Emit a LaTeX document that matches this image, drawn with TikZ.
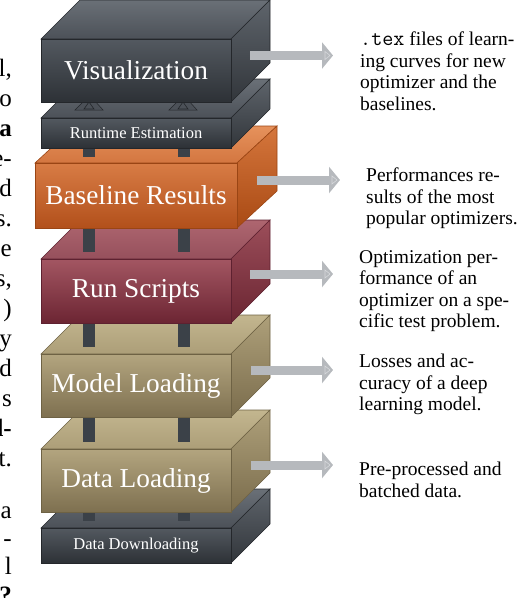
\documentclass[tikz,border=0pt]{standalone}
\usepackage{fontspec}
\setmainfont{Liberation Serif}
\usetikzlibrary{arrows.meta,calc}

\definecolor{dkF1}{HTML}{535960}
\definecolor{dkF2}{HTML}{2D3136}
\definecolor{dkT1}{HTML}{6A7077}
\definecolor{dkT2}{HTML}{4C5158}
\definecolor{dkS1}{HTML}{5E646B}
\definecolor{dkS2}{HTML}{32363B}
\definecolor{dkE}{HTML}{24272B}

\definecolor{orF1}{HTML}{D87C45}
\definecolor{orF2}{HTML}{B2501B}
\definecolor{orT1}{HTML}{E6925C}
\definecolor{orT2}{HTML}{D37640}
\definecolor{orS1}{HTML}{D5763C}
\definecolor{orS2}{HTML}{A94A14}
\definecolor{orE}{HTML}{9A4514}

\definecolor{mrF1}{HTML}{A35662}
\definecolor{mrF2}{HTML}{6C2533}
\definecolor{mrT1}{HTML}{AE6670}
\definecolor{mrT2}{HTML}{96505C}
\definecolor{mrS1}{HTML}{9C4E5A}
\definecolor{mrS2}{HTML}{6A2532}
\definecolor{mrE}{HTML}{5E2130}

\definecolor{khF1}{HTML}{B3A57F}
\definecolor{khF2}{HTML}{7E7050}
\definecolor{khT1}{HTML}{C3B68F}
\definecolor{khT2}{HTML}{AC9E78}
\definecolor{khS1}{HTML}{AEA07A}
\definecolor{khS2}{HTML}{7A6C4C}
\definecolor{khE}{HTML}{6E6244}

\definecolor{pillarc}{HTML}{3B4148}
\definecolor{arrowc}{HTML}{B6B9BD}
\definecolor{arrowin}{HTML}{D6D8DB}

\newcommand\bigfont{\fontsize{27.3}{30}\selectfont}
\newcommand\smallfont{\fontsize{16.5}{19}\selectfont}
\newcommand\rtextfont{\fontsize{19.5}{21.5}\selectfont}
\newcommand\leftfont{\fontsize{25}{30}\selectfont}
\newcommand\texword{{\fontsize{21.5}{21.5}\selectfont\ttfamily .tex}}

% #1 name, #2 x, #3 y, #4 w, #5 h, #6 dx, #7 dy, #8 colour prefix, #9 label
\newcommand\cubebox[9]{%
  \path[top color=#8T1, bottom color=#8T2, draw=#8E, line width=0.6pt]
    (#2,#3) -- ++(#6,-#7) -- ++(#4,0) -- ++(-#6,#7) -- cycle;
  \path[top color=#8S1, bottom color=#8S2, draw=#8E, line width=0.6pt]
    (#2+#4,#3) -- ++(#6,-#7) -- ++(0,#5) -- ++(-#6,#7) -- cycle;
  \node[face, minimum width=#4pt, minimum height=#5pt,
        top color=#8F1, bottom color=#8F2, draw=#8E] (#1) at (#2,#3) {#9};
}

\begin{document}
\begin{tikzpicture}[x=1pt,y=-1pt,
  face/.style={anchor=north west, inner sep=0pt, outer sep=0pt, text=white, line width=0.6pt},
  pillar/.style={fill=pillarc},
  foot/.style={fill=dkT2, draw=dkE, line width=0.5pt},
  bigarrow/.style={draw=arrowc, line width=9pt, -{Triangle[width=26pt,length=11pt]}},
  rtxt/.style={anchor=north west, inner sep=0pt, align=left, font=\rtextfont},
  frag/.style={anchor=base east, inner sep=0pt, font=\leftfont}
]
\useasboundingbox (0,0) rectangle (518,598);
\clip (0,0) rectangle (518,598);

% stack, from bottom to top
\cubebox{dd}{41}{528}{190}{35}{39}{39}{dk}{\smallfont Data Downloading}
\fill[pillar] (83,505) rectangle (95,521);
\fill[pillar] (178,505) rectangle (190,521);

\cubebox{dl}{41}{449}{190}{63}{39}{39}{kh}{\bigfont Data Loading}
\fill[pillar] (83,410) rectangle (95,442);
\fill[pillar] (178,410) rectangle (190,442);

\cubebox{ml}{41}{354}{190}{63}{39}{39}{kh}{\bigfont Model Loading}
\fill[pillar] (83,315) rectangle (95,347);
\fill[pillar] (178,315) rectangle (190,347);

\cubebox{rs}{41}{259}{190}{64}{39}{39}{mr}{\bigfont Run Scripts}
\fill[pillar] (83,220) rectangle (95,252);
\fill[pillar] (178,220) rectangle (190,252);

\cubebox{br}{35}{163}{202}{65}{40}{37}{or}{\bigfont Baseline Results}
\fill[pillar] (83,140) rectangle (95,157);
\fill[pillar] (178,140) rectangle (190,157);

\cubebox{re}{41}{118}{190}{30}{39}{39}{dk}{\smallfont Runtime Estimation}
\path[foot] (85,100) -- (94,100) -- (103,110) -- (75,110) -- cycle;
\draw[dkE, line width=0.6pt] (84,109) -- (89,102) -- (94,109) -- cycle;
\path[foot] (179,100) -- (188,100) -- (197,110) -- (169,110) -- cycle;
\draw[dkE, line width=0.6pt] (178,109) -- (183,102) -- (188,109) -- cycle;

\cubebox{vis}{41}{39}{190}{63}{39}{39}{dk}{\bigfont Visualization}

% arrows
\coordinate (a1s) at (250,55.5);  \coordinate (a1e) at (333,55.5);
\coordinate (a2s) at (257,180);   \coordinate (a2e) at (340,180);
\coordinate (a3s) at (250,274);   \coordinate (a3e) at (333,274);
\coordinate (a4s) at (251,370);   \coordinate (a4e) at (333,370);
\coordinate (a5s) at (251,465);   \coordinate (a5e) at (333,465);
\foreach \i in {1,...,5}{
  \draw[bigarrow] (a\i s) -- (a\i e);
  \draw[arrowin, line width=0.6pt] ($(a\i e)+(-8,-4)$) -- ($(a\i e)+(-3,0)$) -- ($(a\i e)+(-8,4)$) -- cycle;
}

% descriptions
\node[rtxt] (t1) at (360,32) {\texword{} files of learn-\\ing curves for new\\optimizer and the\\baselines.};
\node[rtxt] (t2) at (366,168) {Performances re-\\sults of the most\\popular optimizers.};
\node[rtxt] (t3) at (359,250) {Optimization per-\\formance of an\\optimizer on a spe-\\cific test problem.};
\node[rtxt] (t4) at (359,354) {Losses and ac-\\curacy of a deep\\learning model.};
\node[rtxt] (t5) at (359,462) {Pre-processed and\\batched data.};

% clipped fragments of the surrounding page text
\node[frag] (f1) at (12,76) {l,};
\node[frag] (f2) at (12,106) {o};
\node[frag] (f3) at (12,136) {\bfseries a};
\node[frag] (f4) at (12,166) {e-};
\node[frag] (f5) at (12,196) {d};
\node[frag] (f6) at (12,226) {s.};
\node[frag] (f7) at (12,256) {e};
\node[frag] (f8) at (12,286) {s,};
\node[frag] (f9) at (12,316) {)};
\node[frag] (f10) at (12,346) {y};
\node[frag] (f11) at (12,376) {d};
\node[frag] (f12) at (12,406) {s};
\node[frag] (f13) at (12,436) {\bfseries l-};
\node[frag] (f14) at (12,466) {t.};
\node[frag] (f15) at (12,518) {a};
\node[frag] (f16) at (12,546) {-};
\node[frag] (f17) at (12,574) {l};
\node[frag] (f18) at (12,603) {\bfseries ?};
\end{tikzpicture}
\end{document}
